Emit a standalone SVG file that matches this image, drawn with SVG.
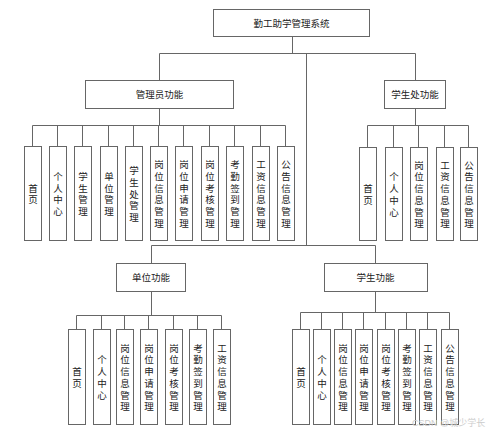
<svg xmlns="http://www.w3.org/2000/svg" width="499" height="435" viewBox="0 0 499 435">
<style>
rect.b{fill:#fff;stroke:#666;stroke-width:1}
path.c{fill:none;stroke:#666;stroke-width:1}
text{font-family:"Liberation Sans","Noto Sans CJK SC",sans-serif;font-size:9.5px;fill:#222;text-anchor:middle}
text.wm{fill:#ccc;font-size:9px;text-anchor:start}
</style>
<rect width="499" height="435" fill="#fff"/>
<g id="connectors">
<path class="c" d="M292.5 36V53.5M159.5 53.5H415.5M159.5 53.5V80M415.5 53.5V80M306.5 53.5V245.5M151.5 245.5H375.5M151.5 245.5V263M375.5 245.5V263"/>
<path class="c" d="M159.5 108V125.5M32.5 125.5H285.5M32.5 125.5V146M57.5 125.5V146M82.5 125.5V146M108.5 125.5V146M133.5 125.5V146M158.5 125.5V146M183.5 125.5V146M209.5 125.5V146M234.5 125.5V146M260.5 125.5V146M285.5 125.5V146"/>
<path class="c" d="M415.5 108V125.5M367.5 125.5H468.5M367.5 125.5V147M393.5 125.5V147M418.5 125.5V147M444.5 125.5V147M468.5 125.5V147"/>
<path class="c" d="M151.5 291V315.5M76.5 315.5H221.5M76.5 315.5V329M101.5 315.5V329M124.5 315.5V329M148.5 315.5V329M173.5 315.5V329M197.5 315.5V329M221.5 315.5V329"/>
<path class="c" d="M375.5 291V312.5M300.5 312.5H449.5M300.5 312.5V329M321.5 312.5V329M342.5 312.5V329M363.5 312.5V329M385.5 312.5V329M406.5 312.5V329M427.5 312.5V329M449.5 312.5V329"/>
</g>
<g id="root"><rect class="b" x="213.5" y="9.5" width="156" height="27"/><text x="291.5" y="26.5">勤工助学管理系统</text></g>
<g id="admin"><rect class="b" x="85.5" y="80.5" width="148" height="28"/><text x="159.5" y="97.5">管理员功能</text></g>
<g id="office"><rect class="b" x="384.5" y="80.5" width="61" height="28"/><text x="415" y="97.5">学生处功能</text></g>
<g id="unit"><rect class="b" x="116.5" y="263.5" width="69" height="28"/><text x="151" y="280.5">单位功能</text></g>
<g id="student"><rect class="b" x="324.5" y="263.5" width="103" height="28"/><text x="375.5" y="280.5">学生功能</text></g>

<g id="a1"><rect class="b" x="24.5" y="146.5" width="17" height="94"/><text x="33"><tspan x="33" y="191.5">首</tspan><tspan x="33" dy="11.7">页</tspan></text></g>
<g id="a2"><rect class="b" x="49.5" y="146.5" width="17" height="94"/><text x="58"><tspan x="58" y="179.9">个</tspan><tspan x="58" dy="11.7">人</tspan><tspan x="58" dy="11.7">中</tspan><tspan x="58" dy="11.7">心</tspan></text></g>
<g id="a3"><rect class="b" x="74.5" y="146.5" width="17" height="94"/><text x="83"><tspan x="83" y="179.9">学</tspan><tspan x="83" dy="11.7">生</tspan><tspan x="83" dy="11.7">管</tspan><tspan x="83" dy="11.7">理</tspan></text></g>
<g id="a4"><rect class="b" x="100.5" y="146.5" width="17" height="94"/><text x="109"><tspan x="109" y="179.9">单</tspan><tspan x="109" dy="11.7">位</tspan><tspan x="109" dy="11.7">管</tspan><tspan x="109" dy="11.7">理</tspan></text></g>
<g id="a5"><rect class="b" x="125.5" y="146.5" width="17" height="94"/><text x="134"><tspan x="134" y="174.1">学</tspan><tspan x="134" dy="11.7">生</tspan><tspan x="134" dy="11.7">处</tspan><tspan x="134" dy="11.7">管</tspan><tspan x="134" dy="11.7">理</tspan></text></g>
<g id="a6"><rect class="b" x="150.5" y="146.5" width="17" height="94"/><text x="159"><tspan x="159" y="168.2">岗</tspan><tspan x="159" dy="11.7">位</tspan><tspan x="159" dy="11.7">信</tspan><tspan x="159" dy="11.7">息</tspan><tspan x="159" dy="11.7">管</tspan><tspan x="159" dy="11.7">理</tspan></text></g>
<g id="a7"><rect class="b" x="175.5" y="146.5" width="17" height="94"/><text x="184"><tspan x="184" y="168.2">岗</tspan><tspan x="184" dy="11.7">位</tspan><tspan x="184" dy="11.7">申</tspan><tspan x="184" dy="11.7">请</tspan><tspan x="184" dy="11.7">管</tspan><tspan x="184" dy="11.7">理</tspan></text></g>
<g id="a8"><rect class="b" x="201.5" y="146.5" width="17" height="94"/><text x="210"><tspan x="210" y="168.2">岗</tspan><tspan x="210" dy="11.7">位</tspan><tspan x="210" dy="11.7">考</tspan><tspan x="210" dy="11.7">核</tspan><tspan x="210" dy="11.7">管</tspan><tspan x="210" dy="11.7">理</tspan></text></g>
<g id="a9"><rect class="b" x="226.5" y="146.5" width="17" height="94"/><text x="235"><tspan x="235" y="168.2">考</tspan><tspan x="235" dy="11.7">勤</tspan><tspan x="235" dy="11.7">签</tspan><tspan x="235" dy="11.7">到</tspan><tspan x="235" dy="11.7">管</tspan><tspan x="235" dy="11.7">理</tspan></text></g>
<g id="a10"><rect class="b" x="252.5" y="146.5" width="17" height="94"/><text x="261"><tspan x="261" y="168.2">工</tspan><tspan x="261" dy="11.7">资</tspan><tspan x="261" dy="11.7">信</tspan><tspan x="261" dy="11.7">息</tspan><tspan x="261" dy="11.7">管</tspan><tspan x="261" dy="11.7">理</tspan></text></g>
<g id="a11"><rect class="b" x="277.5" y="146.5" width="17" height="94"/><text x="286"><tspan x="286" y="168.2">公</tspan><tspan x="286" dy="11.7">告</tspan><tspan x="286" dy="11.7">信</tspan><tspan x="286" dy="11.7">息</tspan><tspan x="286" dy="11.7">管</tspan><tspan x="286" dy="11.7">理</tspan></text></g>

<g id="o1"><rect class="b" x="359.5" y="147.5" width="17" height="93"/><text><tspan x="368" y="192">首</tspan><tspan x="368" dy="11.7">页</tspan></text></g>
<g id="o2"><rect class="b" x="385.5" y="147.5" width="17" height="93"/><text><tspan x="394" y="180.4">个</tspan><tspan x="394" dy="11.7">人</tspan><tspan x="394" dy="11.7">中</tspan><tspan x="394" dy="11.7">心</tspan></text></g>
<g id="o3"><rect class="b" x="410.5" y="147.5" width="17" height="93"/><text><tspan x="419" y="168.7">岗</tspan><tspan x="419" dy="11.7">位</tspan><tspan x="419" dy="11.7">信</tspan><tspan x="419" dy="11.7">息</tspan><tspan x="419" dy="11.7">管</tspan><tspan x="419" dy="11.7">理</tspan></text></g>
<g id="o4"><rect class="b" x="436.5" y="147.5" width="17" height="93"/><text><tspan x="445" y="168.7">工</tspan><tspan x="445" dy="11.7">资</tspan><tspan x="445" dy="11.7">信</tspan><tspan x="445" dy="11.7">息</tspan><tspan x="445" dy="11.7">管</tspan><tspan x="445" dy="11.7">理</tspan></text></g>
<g id="o5"><rect class="b" x="460.5" y="147.5" width="17" height="93"/><text><tspan x="469" y="168.7">公</tspan><tspan x="469" dy="11.7">告</tspan><tspan x="469" dy="11.7">信</tspan><tspan x="469" dy="11.7">息</tspan><tspan x="469" dy="11.7">管</tspan><tspan x="469" dy="11.7">理</tspan></text></g>

<g id="u1"><rect class="b" x="68.5" y="329.5" width="17" height="95"/><text><tspan x="77" y="375">首</tspan><tspan x="77" dy="11.7">页</tspan></text></g>
<g id="u2"><rect class="b" x="93.5" y="329.5" width="17" height="95"/><text><tspan x="102" y="363.4">个</tspan><tspan x="102" dy="11.7">人</tspan><tspan x="102" dy="11.7">中</tspan><tspan x="102" dy="11.7">心</tspan></text></g>
<g id="u3"><rect class="b" x="116.5" y="329.5" width="17" height="95"/><text><tspan x="125" y="351.7">岗</tspan><tspan x="125" dy="11.7">位</tspan><tspan x="125" dy="11.7">信</tspan><tspan x="125" dy="11.7">息</tspan><tspan x="125" dy="11.7">管</tspan><tspan x="125" dy="11.7">理</tspan></text></g>
<g id="u4"><rect class="b" x="140.5" y="329.5" width="17" height="95"/><text><tspan x="149" y="351.7">岗</tspan><tspan x="149" dy="11.7">位</tspan><tspan x="149" dy="11.7">申</tspan><tspan x="149" dy="11.7">请</tspan><tspan x="149" dy="11.7">管</tspan><tspan x="149" dy="11.7">理</tspan></text></g>
<g id="u5"><rect class="b" x="165.5" y="329.5" width="17" height="95"/><text><tspan x="174" y="351.7">岗</tspan><tspan x="174" dy="11.7">位</tspan><tspan x="174" dy="11.7">考</tspan><tspan x="174" dy="11.7">核</tspan><tspan x="174" dy="11.7">管</tspan><tspan x="174" dy="11.7">理</tspan></text></g>
<g id="u6"><rect class="b" x="189.5" y="329.5" width="17" height="95"/><text><tspan x="198" y="351.7">考</tspan><tspan x="198" dy="11.7">勤</tspan><tspan x="198" dy="11.7">签</tspan><tspan x="198" dy="11.7">到</tspan><tspan x="198" dy="11.7">管</tspan><tspan x="198" dy="11.7">理</tspan></text></g>
<g id="u7"><rect class="b" x="213.5" y="329.5" width="17" height="95"/><text><tspan x="222" y="351.7">工</tspan><tspan x="222" dy="11.7">资</tspan><tspan x="222" dy="11.7">信</tspan><tspan x="222" dy="11.7">息</tspan><tspan x="222" dy="11.7">管</tspan><tspan x="222" dy="11.7">理</tspan></text></g>

<g id="s1"><rect class="b" x="292.5" y="329.5" width="17" height="95"/><text><tspan x="301" y="375">首</tspan><tspan x="301" dy="11.7">页</tspan></text></g>
<g id="s2"><rect class="b" x="313.5" y="329.5" width="17" height="95"/><text><tspan x="322" y="363.4">个</tspan><tspan x="322" dy="11.7">人</tspan><tspan x="322" dy="11.7">中</tspan><tspan x="322" dy="11.7">心</tspan></text></g>
<g id="s3"><rect class="b" x="334.5" y="329.5" width="17" height="95"/><text><tspan x="343" y="351.7">岗</tspan><tspan x="343" dy="11.7">位</tspan><tspan x="343" dy="11.7">信</tspan><tspan x="343" dy="11.7">息</tspan><tspan x="343" dy="11.7">管</tspan><tspan x="343" dy="11.7">理</tspan></text></g>
<g id="s4"><rect class="b" x="355.5" y="329.5" width="17" height="95"/><text><tspan x="364" y="351.7">岗</tspan><tspan x="364" dy="11.7">位</tspan><tspan x="364" dy="11.7">申</tspan><tspan x="364" dy="11.7">请</tspan><tspan x="364" dy="11.7">管</tspan><tspan x="364" dy="11.7">理</tspan></text></g>
<g id="s5"><rect class="b" x="377.5" y="329.5" width="17" height="95"/><text><tspan x="386" y="351.7">岗</tspan><tspan x="386" dy="11.7">位</tspan><tspan x="386" dy="11.7">考</tspan><tspan x="386" dy="11.7">核</tspan><tspan x="386" dy="11.7">管</tspan><tspan x="386" dy="11.7">理</tspan></text></g>
<g id="s6"><rect class="b" x="398.5" y="329.5" width="17" height="95"/><text><tspan x="407" y="351.7">考</tspan><tspan x="407" dy="11.7">勤</tspan><tspan x="407" dy="11.7">签</tspan><tspan x="407" dy="11.7">到</tspan><tspan x="407" dy="11.7">管</tspan><tspan x="407" dy="11.7">理</tspan></text></g>
<g id="s7"><rect class="b" x="419.5" y="329.5" width="17" height="95"/><text><tspan x="428" y="351.7">工</tspan><tspan x="428" dy="11.7">资</tspan><tspan x="428" dy="11.7">信</tspan><tspan x="428" dy="11.7">息</tspan><tspan x="428" dy="11.7">管</tspan><tspan x="428" dy="11.7">理</tspan></text></g>
<g id="s8"><rect class="b" x="441.5" y="329.5" width="17" height="95"/><text><tspan x="450" y="351.7">公</tspan><tspan x="450" dy="11.7">告</tspan><tspan x="450" dy="11.7">信</tspan><tspan x="450" dy="11.7">息</tspan><tspan x="450" dy="11.7">管</tspan><tspan x="450" dy="11.7">理</tspan></text></g>

<text class="wm" x="412" y="426">CSDN @城少学长</text>
</svg>
